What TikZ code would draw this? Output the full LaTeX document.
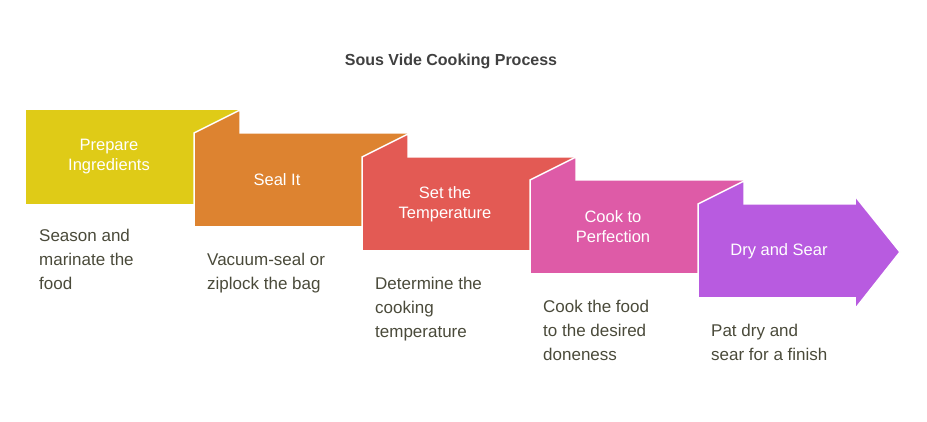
\documentclass[tikz,border=0pt]{standalone}
\usepackage{fontspec}
\setmainfont{Liberation Sans}
\definecolor{cA}{HTML}{DFCB17}
\definecolor{cB}{HTML}{DD8330}
\definecolor{cC}{HTML}{E35A54}
\definecolor{cD}{HTML}{DE5BA7}
\definecolor{cE}{HTML}{B85BE0}
\definecolor{tx}{HTML}{4A4A3A}
\begin{document}
\begin{tikzpicture}[x=1pt,y=-1pt,
  stepshape/.style={draw=white,line width=1.5pt,line join=miter},
  ttl/.style={text=white,font=\fontsize{16.5}{20}\selectfont,align=center},
  desc/.style={text=tx,font=\fontsize{17}{24}\selectfont,align=left,anchor=north west,inner sep=0pt}]
\useasboundingbox (0,0) rectangle (927,422);
\node[font=\bfseries\fontsize{16}{19}\selectfont,text=black!75] (title) at (451,61) {Sous Vide Cooking Process};
% step 1
\fill[cA] (26,110) rectangle (240,204);
\path (109,157) node[ttl] (t1) {Prepare\\Ingredients};
% steps 2-4
\foreach \x/\y/\c/\n in {194/133/cB/2,362/157/cC/3,530/180/cD/4}{
  \filldraw[stepshape,fill=\c] (\x,\y)--(\x+46,\y-23)--(\x+46,\y)--(\x+214,\y)--(\x+214,\y+94)--(\x,\y+94)--cycle;
}
\filldraw[stepshape,fill=cE] (698,204)--(744,181)--(744,204)--(855,204)--(855,196)--(900,252)--(855,309)--(855,298)--(698,298)--cycle;
\node[ttl] (t2) at (277,180) {Seal It};
\node[ttl] (t3) at (445,204) {Set the\\Temperature};
\node[ttl] (t4) at (613,227) {Cook to\\Perfection};
\node[ttl] (t5) at (779,251) {Dry and Sear};
\node[desc] (d1) at (39,229) {Season and\\marinate the\\food};
\node[desc] (d2) at (207,253) {Vacuum-seal or\\ziplock the bag};
\node[desc] (d3) at (375,277) {Determine the\\cooking\\temperature};
\node[desc] (d4) at (543,300) {Cook the food\\to the desired\\doneness};
\node[desc] (d5) at (711,324) {Pat dry and\\sear for a finish};
\end{tikzpicture}
\end{document}
